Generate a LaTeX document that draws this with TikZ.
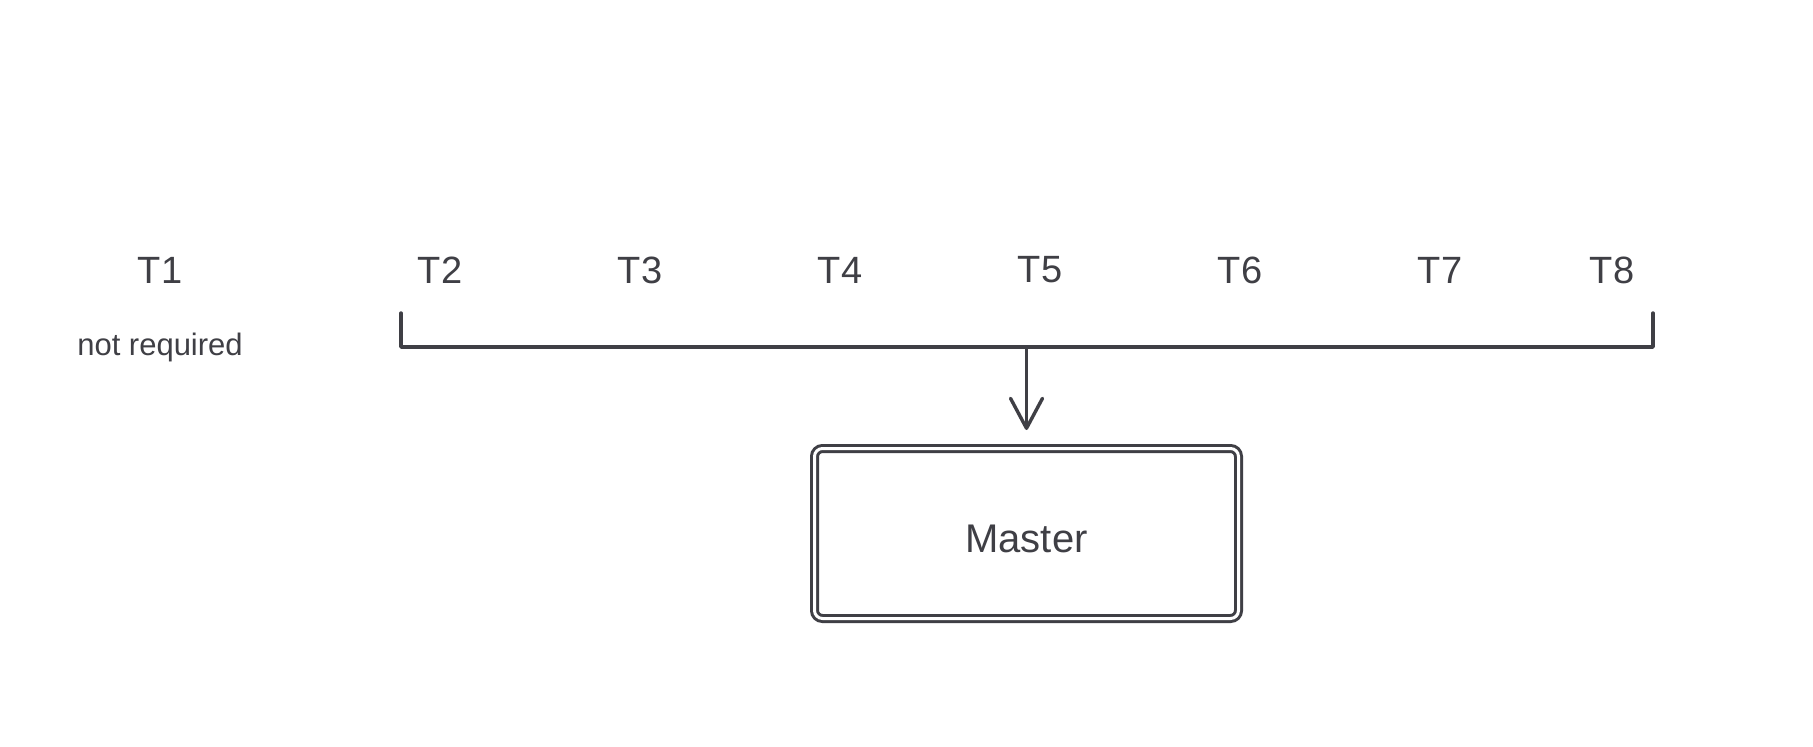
\documentclass[tikz,border=0pt]{standalone}
\usepackage{fontspec}
\setmainfont{Liberation Sans}
\usetikzlibrary{positioning, arrows.meta}
\definecolor{ink}{HTML}{3F3F45}
\tikzset{
x=1pt, y=-1pt, % one unit is one pixel of the sketch
every path/.style={color=ink}, % dark grey ink everywhere
tlabel/.style={text=ink, font=\fontsize{38}{44}\selectfont, inner sep=0pt}, % the thread labels
wire/.style={line width=3.4pt, line cap=round, line join=round}, % the bracket and the arrow
master box/.style={draw=ink, double=white, double distance=3pt, line width=3pt, rounded corners=8pt,
  minimum width=424pt, minimum height=170pt, text=ink, font=\fontsize{40}{46}\selectfont,
  text height=38pt, text depth=0pt}, % pushes the word a little below the middle
}

\begin{document}
\begin{tikzpicture}
    \useasboundingbox[fill=white] (0,0) rectangle (1813,747);
    \node[tlabel] (t1) at (160,270) {T1};
    \node[tlabel] (t2) at (440,270) {T2};
    \node[tlabel, right=200pt of t2.center, anchor=center] (t3) {T3};
    \node[tlabel, right=200pt of t3.center, anchor=center] (t4) {T4};
    \node[tlabel, right=200pt of t4.center, anchor=center] (t5) {T5};
    \node[tlabel, right=200pt of t5.center, anchor=center] (t6) {T6};
    \node[tlabel, right=200pt of t6.center, anchor=center] (t7) {T7};
    \node[tlabel, right=172pt of t7.center, anchor=center] (t8) {T8};
    \node[text=ink, font=\fontsize{31}{36}\selectfont, inner sep=0pt] (nr) at (160,347) {not required};
    \node[master box] (master) at (1026.5,533.5) {Master};
    \coordinate (bl) at (401,313);
    \coordinate (br) at (1653,313);
    \coordinate (bm) at (1026.5,347);
    \draw[wire] (bl) |- (bm) -| (br);
    \draw[wire, -{Straight Barb[length=30pt, width=32pt, round]}, shorten >=17pt] (bm) -- (master.north);
\end{tikzpicture}
\end{document}
